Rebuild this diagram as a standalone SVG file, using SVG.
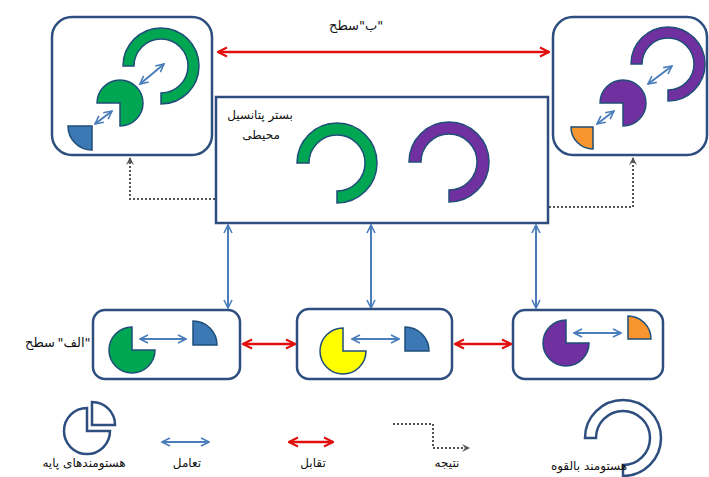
<svg xmlns="http://www.w3.org/2000/svg" width="709" height="477" viewBox="0 0 709 477">
<defs>
<style>
.box{fill:#fff;stroke:#2D4E7E;stroke-width:2.5}
.shp{stroke:#1F4E79;stroke-width:1.5}
.green{fill:#00A651}
.purple{fill:#7030A0}
.yellow{fill:#FFFF00}
.blue{fill:#3C78B4}
.orange{fill:#F7962E}
.barr{stroke:#4A7EBB;stroke-width:2;fill:none;marker-start:url(#bh);marker-end:url(#bh)}
.rarr{stroke:#E01010;stroke-width:2.5;fill:none;marker-start:url(#rh);marker-end:url(#rh)}
.dot{stroke:#555;stroke-width:2;stroke-dasharray:2 2;fill:none;marker-end:url(#dh)}
.leg{fill:#fff;stroke:#2D4E7E;stroke-width:2.5}
text{font-family:"DejaVu Sans","Noto Sans",sans-serif;font-size:12px;fill:#111;text-anchor:middle}
.lvl{font-size:13px}
</style>
<marker id="bh" viewBox="0 0 10 10" refX="9" refY="5" markerWidth="5" markerHeight="5" orient="auto-start-reverse" markerUnits="strokeWidth">
<path d="M1,1 L9,5 L1,9" fill="none" stroke="#4A7EBB" stroke-width="1.6"/>
</marker>
<marker id="rh" viewBox="0 0 10 10" refX="9" refY="5" markerWidth="4.5" markerHeight="4.5" orient="auto-start-reverse" markerUnits="strokeWidth">
<path d="M1,1 L9,5 L1,9" fill="none" stroke="#E01010" stroke-width="1.8"/>
</marker>
<marker id="dh" viewBox="0 0 10 10" refX="8" refY="5" markerWidth="5" markerHeight="5" orient="auto" markerUnits="strokeWidth">
<path d="M1,1 L9,5 L1,9 L4,5 Z" fill="#555"/>
</marker>
</defs>

<g id="connectors">
<line class="rarr" x1="218" y1="52" x2="549" y2="52"/>
<line class="rarr" x1="243" y1="344" x2="295" y2="344"/>
<line class="rarr" x1="455" y1="344" x2="511" y2="344"/>
<line class="barr" x1="228" y1="225" x2="228" y2="308"/>
<line class="barr" x1="371" y1="225" x2="371" y2="308"/>
<line class="barr" x1="536" y1="225" x2="536" y2="308"/>
<polyline class="dot" points="215,199 130,199 130,158"/>
<polyline class="dot" points="549,207 633,207 633,158"/>
</g>

<g id="top-left">
<rect class="box" x="52" y="17" width="160" height="138" rx="20"/>
<path class="shp green" d="M123,66 A38,38 0 1 1 161,104 L161,93 A27,27 0 1 0 134,66 Z"/>
<path class="shp green" d="M120,103 L97,103 A23,23 0 1 1 120,126 Z"/>
<path class="shp blue" d="M92,126 L92,150 A24,24 0 0 1 68,126 Z"/>
<line class="barr" x1="95" y1="124" x2="112" y2="111"/>
<line class="barr" x1="140" y1="84" x2="164" y2="64"/>
</g>

<g id="top-right">
<rect class="box" x="553" y="17" width="154" height="138" rx="20"/>
<path class="shp purple" d="M631,64 A37,37 0 1 1 668,101 L668,90 A26,26 0 1 0 642,64 Z"/>
<path class="shp purple" d="M623,103 L600,103 A23,23 0 1 1 623,126 Z"/>
<path class="shp orange" d="M593,127 L593,149 A22,22 0 0 1 571,127 Z"/>
<line class="barr" x1="597" y1="124" x2="614" y2="111"/>
<line class="barr" x1="648" y1="84" x2="672" y2="66"/>
</g>

<g id="center">
<rect class="box" x="216" y="97" width="332" height="126"/>
<text x="260" y="119">بستر پتانسیل</text>
<text x="261" y="139">محیطی</text>
<path class="shp green" d="M297,163 A40,40 0 1 1 337,203 L337,191 A28,28 0 1 0 309,163 Z"/>
<path class="shp purple" d="M409,162 A40,40 0 1 1 449,202 L449,190 A28,28 0 1 0 421,162 Z"/>
</g>

<g id="bottom-left">
<rect class="box" x="93" y="310" width="147" height="69" rx="12"/>
<path class="shp green" d="M132,350 L132,327 A23,23 0 1 0 155,350 Z"/>
<path class="shp blue" d="M193,345 L193,321 A24,24 0 0 1 217,345 Z"/>
<line class="barr" x1="140" y1="339" x2="186" y2="339"/>
</g>

<g id="bottom-middle">
<rect class="box" x="297" y="309" width="155" height="70" rx="12"/>
<path class="shp yellow" d="M343,351 L343,328 A23,23 0 1 0 366,351 Z"/>
<path class="shp blue" d="M405,351 L405,327 A24,24 0 0 1 429,351 Z"/>
<line class="barr" x1="352" y1="339" x2="399" y2="339"/>
</g>

<g id="bottom-right">
<rect class="box" x="513" y="310" width="150" height="69" rx="12"/>
<path class="shp purple" d="M566,343 L566,320 A23,23 0 1 0 589,343 Z"/>
<path class="shp orange" d="M628,339 L628,316 A23,23 0 0 1 651,339 Z"/>
<line class="barr" x1="574" y1="333" x2="621" y2="333"/>
</g>

<g id="labels">
<text class="lvl" x="344" y="30">سطح</text>
<text class="lvl" x="371" y="30">"ب"</text>
<text class="lvl" x="40" y="347">سطح</text>
<text class="lvl" x="74" y="347">"الف"</text>
</g>

<g id="legend">
<path class="leg" d="M87,431 L87,408 A23,23 0 1 0 110,431 Z"/>
<path class="leg" d="M92,425 L92,402 A23,23 0 0 1 115,425 Z"/>
<text x="84" y="467">هستومندهای پایه</text>
<line class="barr" x1="162" y1="442" x2="209" y2="442"/>
<text x="187" y="467">تعامل</text>
<line class="rarr" x1="289" y1="442" x2="333" y2="442"/>
<text x="313" y="467">تقابل</text>
<polyline class="dot" points="393,424 433,424 433,448 469,448"/>
<text x="447" y="467">نتیجه</text>
<path class="leg" d="M585,438 A38,38 0 1 1 623,476 L623,465 A27,27 0 1 0 596,438 Z"/>
<text x="589" y="470">هستومند بالقوه</text>
</g>
</svg>
